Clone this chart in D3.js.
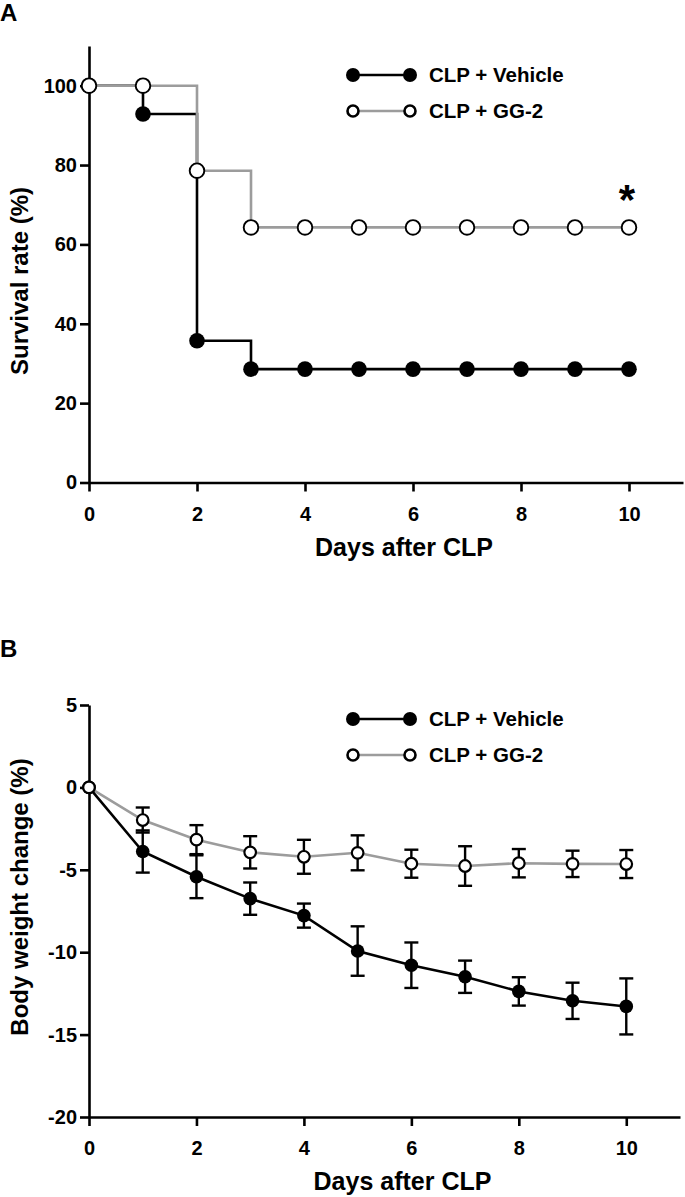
<!DOCTYPE html>
<html><head><meta charset="utf-8">
<script src="https://cdn.jsdelivr.net/npm/d3@7"></script>
<style>
body{margin:0;background:#fff;}
svg{display:block;}
text{font-family:"Liberation Sans",Arial,Helvetica,sans-serif;font-weight:bold;fill:#000;}
</style></head><body>
<svg id="chart" width="685" height="1197"></svg>
<script>
// ---------- data ----------
const days = [0,1,2,3,4,5,6,7,8,9,10];
const xTickValues = [0,2,4,6,8,10];
const survivalTicks = [0,20,40,60,80,100];
const weightTicks = [-20,-15,-10,-5,0,5];
const seriesNames = ["CLP + Vehicle","CLP + GG-2"];
const panelLabels = ["A","B"];
const xTitle = "Days after CLP";
const yTitles = ["Survival rate (%)","Body weight change (%)"];
const significanceMark = "*";

const survivalVehicle = [100,92.86,35.71,28.57,28.57,28.57,28.57,28.57,28.57,28.57,28.57];
const survivalGG2     = [100,100,78.57,64.29,64.29,64.29,64.29,64.29,64.29,64.29,64.29];

const weightVehicleMean = [0,-3.89,-5.42,-6.75,-7.78,-9.93,-10.79,-11.49,-12.38,-12.95,-13.29];
const weightVehicleSem  = [0,1.28,1.30,0.98,0.73,1.50,1.38,0.98,0.86,1.10,1.70];
const weightGG2Mean     = [0,-1.98,-3.17,-3.94,-4.21,-3.97,-4.63,-4.77,-4.60,-4.64,-4.65];
const weightGG2Sem      = [0,0.76,0.88,0.98,1.03,1.06,0.85,1.20,0.86,0.80,0.85];

// ---------- styles ----------
const BLACK = "#000", GRAY = "#9c9c9c";
const AXW = 2.6;
const svg = d3.select("#chart");

function styleAxis(g){
  g.attr("font-size",null).attr("font-family",null);
  g.selectAll("path.domain").attr("stroke",BLACK).attr("stroke-width",AXW);
  g.selectAll(".tick line").attr("stroke",BLACK).attr("stroke-width",AXW);
  g.selectAll(".tick text").attr("font-size",20).attr("fill",BLACK)
   .style("font-family",'"Liberation Sans",Arial,sans-serif').style("font-weight","bold");
}

function drawAxes(x, y, yTicks, yTitle, yTitleCenter){
  const g = svg.append("g");
  const y0 = y.range()[0];
  const fmt = d => String(d);
  const xAxis = g.append("g").attr("transform",`translate(0,${y0})`)
    .call(d3.axisBottom(x).tickValues(xTickValues).tickFormat(fmt).tickSize(9).tickSizeOuter(0).tickPadding(15));
  styleAxis(xAxis);
  const yAxis = g.append("g").attr("transform",`translate(${x.range()[0]},0)`)
    .call(d3.axisLeft(y).tickValues(yTicks).tickFormat(fmt).tickSize(9).tickSizeOuter(0).tickPadding(3));
  styleAxis(yAxis);
  g.append("text").attr("x",(x.range()[0]+x.range()[1])/2 + 18).attr("y",y0+73)
    .attr("text-anchor","middle").attr("font-size",25).text(xTitle);
  g.append("text").attr("transform",`translate(28,${yTitleCenter}) rotate(-90)`)
    .attr("text-anchor","middle").attr("font-size",24).text(yTitle);
}

function drawLegend(xL, yL, rowGap, rFilled, rOpen){
  const g = svg.append("g");
  const x1 = xL, x2 = xL + 57;
  g.append("line").attr("x1",x1).attr("x2",x2).attr("y1",yL).attr("y2",yL)
    .attr("stroke",BLACK).attr("stroke-width",2.6);
  [x1,x2].forEach(cx => g.append("circle").attr("cx",cx).attr("cy",yL).attr("r",rFilled).attr("fill",BLACK));
  g.append("text").attr("x",x2+19).attr("y",yL+7).attr("font-size",20.5).text(seriesNames[0]);
  const y2 = yL + rowGap;
  g.append("line").attr("x1",x1).attr("x2",x2).attr("y1",y2).attr("y2",y2)
    .attr("stroke",GRAY).attr("stroke-width",2.4);
  [x1,x2].forEach(cx => g.append("circle").attr("cx",cx).attr("cy",y2).attr("r",rOpen)
    .attr("fill","#fff").attr("stroke",BLACK).attr("stroke-width",2.6));
  g.append("text").attr("x",x2+19).attr("y",y2+7).attr("font-size",20.5).text(seriesNames[1]);
}

// panel letters
svg.append("text").attr("x",0).attr("y",21).attr("font-size",24).text(panelLabels[0]);
svg.append("text").attr("x",0).attr("y",657).attr("font-size",24).text(panelLabels[1]);

// ---------- Panel A: survival ----------
const xA = d3.scaleLinear().domain([0,11]).range([89,683]);
const yA = d3.scaleLinear().domain([0,110]).range([482.5,46]);
drawAxes(xA, yA, survivalTicks, yTitles[0], 281);

const stepLine = d3.line().x((d,i)=>xA(days[i])).y(d=>yA(d)).curve(d3.curveStepAfter);
const gA = svg.append("g");
gA.append("path").attr("d",stepLine(survivalVehicle)).attr("fill","none")
  .attr("stroke",BLACK).attr("stroke-width",2.6);
gA.append("path").attr("d",stepLine(survivalGG2)).attr("fill","none")
  .attr("stroke",GRAY).attr("stroke-width",2.6);
gA.selectAll("circle.veh").data(survivalVehicle).join("circle").attr("class","veh")
  .attr("cx",(d,i)=>xA(days[i])).attr("cy",d=>yA(d)).attr("r",7.8).attr("fill",BLACK);
gA.selectAll("circle.gg").data(survivalGG2).join("circle").attr("class","gg")
  .attr("cx",(d,i)=>xA(days[i])).attr("cy",d=>yA(d)).attr("r",7.3)
  .attr("fill","#fff").attr("stroke",BLACK).attr("stroke-width",1.9);
const lastDay = days[days.length-1];
gA.append("text").attr("x",xA(lastDay) - 2).attr("y",yA(survivalGG2[survivalGG2.length-1]) - 13)
  .attr("text-anchor","middle").attr("font-size",42).text(significanceMark);

drawLegend(353, 75, 36, 7, 5.5);

// ---------- Panel B: body weight ----------
const xB = d3.scaleLinear().domain([0,11]).range([89,680]);
const yB = d3.scaleLinear().domain([-20,5]).range([1117,705]);
drawAxes(xB, yB, weightTicks, yTitles[1], 897);

const gB = svg.append("g");
function errorBars(mean, sem){
  days.forEach((d,i)=>{
    if (!sem[i]) return;
    const cx = xB(d), yt = yB(mean[i]+sem[i]), yb = yB(mean[i]-sem[i]);
    gB.append("line").attr("x1",cx).attr("x2",cx).attr("y1",yt).attr("y2",yb)
      .attr("stroke",BLACK).attr("stroke-width",2.4);
    [yt,yb].forEach(yy => gB.append("line").attr("x1",cx-7).attr("x2",cx+7).attr("y1",yy).attr("y2",yy)
      .attr("stroke",BLACK).attr("stroke-width",2.4));
  });
}
errorBars(weightVehicleMean, weightVehicleSem);
errorBars(weightGG2Mean, weightGG2Sem);
const lineB = d3.line().x((d,i)=>xB(days[i])).y(d=>yB(d));
gB.append("path").attr("d",lineB(weightGG2Mean)).attr("fill","none")
  .attr("stroke",GRAY).attr("stroke-width",2.6);
gB.append("path").attr("d",lineB(weightVehicleMean)).attr("fill","none")
  .attr("stroke",BLACK).attr("stroke-width",2.6);
gB.selectAll("circle.veh").data(weightVehicleMean).join("circle").attr("class","veh")
  .attr("cx",(d,i)=>xB(days[i])).attr("cy",d=>yB(d)).attr("r",6.8).attr("fill",BLACK);
gB.selectAll("circle.gg").data(weightGG2Mean).join("circle").attr("class","gg")
  .attr("cx",(d,i)=>xB(days[i])).attr("cy",d=>yB(d)).attr("r",5.8)
  .attr("fill","#fff").attr("stroke",BLACK).attr("stroke-width",2.2);

drawLegend(353, 719, 36, 7, 5.5);
</script>
</body></html>
